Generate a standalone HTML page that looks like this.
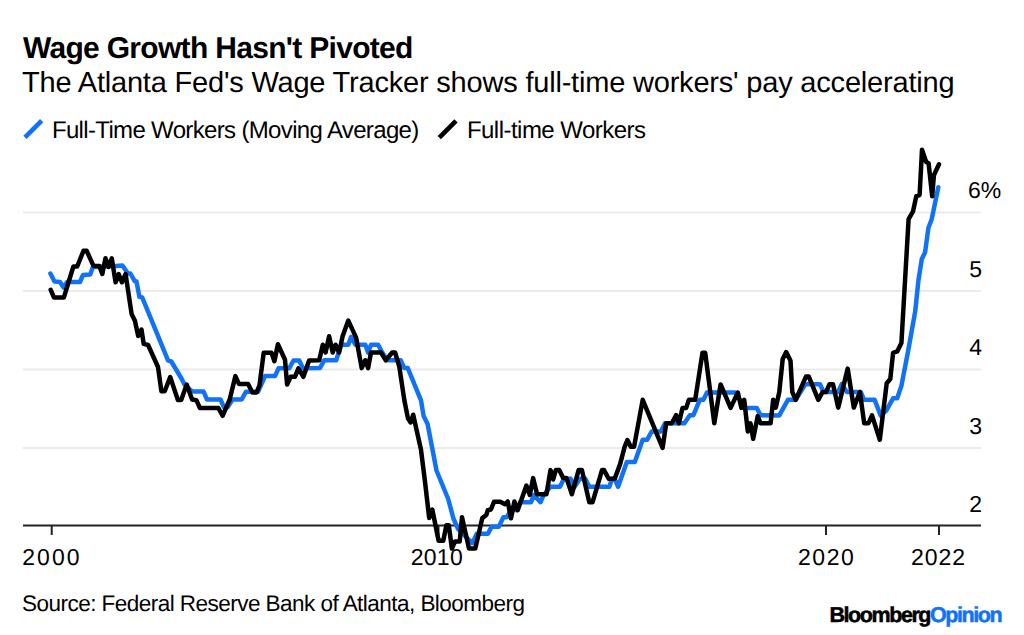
<!DOCTYPE html>
<html><head><meta charset="utf-8">
<style>
html,body{margin:0;padding:0;background:#fff;}
body{width:1024px;height:635px;overflow:hidden;position:relative;}
svg{position:absolute;left:0;top:0;}
text{font-family:"Liberation Sans", sans-serif;fill:#000;text-rendering:geometricPrecision;}
</style></head><body>
<svg width="1024" height="635" viewBox="0 0 1024 635">
<text id="title" x="22.9" y="57.8" font-size="30" font-weight="bold" style="letter-spacing:-0.688px">Wage Growth Hasn't Pivoted</text>
<text id="sub" x="22.1" y="91.6" font-size="29" style="letter-spacing:-0.197px">The Atlanta Fed's Wage Tracker shows full-time workers' pay accelerating</text>
<line x1="25" y1="137.4" x2="41.7" y2="120.7" stroke="#1172f8" stroke-width="4.7"/>
<text id="leg1" x="51.9" y="137.6" font-size="24" style="letter-spacing:-0.655px">Full-Time Workers (Moving Average)</text>
<line x1="439.3" y1="137.6" x2="456" y2="120.9" stroke="#000" stroke-width="4.7"/>
<text id="leg2" x="466.9" y="137.6" font-size="24" style="letter-spacing:-0.525px">Full-time Workers</text>
<g stroke="#ebebeb" stroke-width="2">
<line x1="23" y1="212.6" x2="981" y2="212.6"/>
<line x1="23" y1="291" x2="981" y2="291"/>
<line x1="23" y1="369.5" x2="981" y2="369.5"/>
<line x1="23" y1="448" x2="981" y2="448"/>
</g>
<g font-size="23">
<text x="968" y="197.6">6%</text>
<text x="969.3" y="276.6">5</text>
<text x="969.3" y="355.1">4</text>
<text x="969.3" y="433.6">3</text>
<text x="969.3" y="512.1">2</text>
</g>
<line x1="23" y1="525.6" x2="981" y2="525.6" stroke="#222" stroke-width="2"/>
<g stroke="#222" stroke-width="2">
<line x1="51.7" y1="525" x2="51.7" y2="535"/>
<line x1="438.5" y1="525" x2="438.5" y2="535"/>
<line x1="826" y1="525" x2="826" y2="535"/>
<line x1="939" y1="525" x2="939" y2="535"/>
</g>
<g font-size="23">
<text id="x2000" x="22.300" y="564.9" style="letter-spacing:2.000px">2000</text>
<text id="x2010" x="410.700" y="564.9" style="letter-spacing:0.300px">2010</text>
<text id="x2020" x="797.900" y="564.9" style="letter-spacing:1.600px">2020</text>
<text id="x2022" x="911.100" y="564.9" style="letter-spacing:0.967px">2022</text>
</g>
<polyline fill="none" stroke="#1172f8" stroke-width="4.5" stroke-linejoin="round" stroke-linecap="round" points="50.4,273.5 54.5,281.5 60.0,282.0 63.5,287.5 67.1,282.0 80.0,282.0 83.0,275.0 90.2,274.5 92.9,267.0 115.6,266.0 122.4,265.5 128.0,273.5 130.4,273.5 134.7,281.2 136.5,281.5 139.4,296.8 142.2,297.4 168.0,360.4 171.3,361.5 181.2,378.0 184.5,384.6 192.2,391.5 203.5,391.5 207.0,399.5 220.5,399.5 224.0,407.3 227.6,407.3 232.5,399.5 241.7,399.5 246.0,391.7 258.0,391.7 265.1,376.1 275.0,376.1 278.6,368.3 289.2,368.3 293.5,360.5 299.2,360.5 303.0,368.3 319.9,368.1 324.2,360.3 336.2,360.3 341.2,344.7 348.3,344.7 351.1,336.9 355.4,344.7 365.3,344.7 368.1,352.5 371.0,344.7 378.0,344.7 382.3,352.5 387.3,360.3 400.7,360.3 404.3,368.1 407.8,368.1 421.0,400.4 423.6,416.0 427.5,423.7 436.5,470.5 448.2,499.0 453.4,518.5 458.1,529.0 462.8,533.8 472.2,543.1 476.9,533.8 487.8,533.8 491.7,526.7 498.8,526.7 503.4,517.3 506.6,517.3 511.3,510.0 517.0,510.0 520.0,502.2 531.1,502.2 533.8,494.9 540.5,502.2 543.8,494.9 550.5,486.8 559.9,486.8 563.9,478.8 570.6,478.8 574.6,486.8 579.9,478.8 585.3,478.8 589.3,486.8 609.4,486.8 612.0,478.8 614.7,478.8 618.1,486.8 626.8,462.1 634.8,462.1 642.7,439.7 647.2,439.7 651.7,431.5 660.8,431.5 665.0,423.3 684.4,423.3 689.8,415.2 693.4,415.2 699.8,399.8 703.4,399.8 707.0,392.5 735.1,392.5 740.0,400.0 744.2,407.9 756.8,407.9 760.5,415.2 779.3,415.4 787.9,399.8 795.7,399.8 805.3,384.2 820.0,384.2 823.5,392.0 838.2,392.0 841.7,384.2 846.9,392.0 860.7,392.0 864.2,399.8 874.6,399.8 880.6,415.4 886.2,410.7 893.1,398.3 897.2,398.3 901.4,385.9 908.3,350.0 915.2,311.4 918.5,279.8 921.8,258.9 925.1,252.3 928.4,228.0 931.7,219.2 938.3,187.3"/>
<polyline fill="none" stroke="#000" stroke-width="4.5" stroke-linejoin="round" stroke-linecap="round" points="50.7,289.8 53.9,297.4 63.9,297.4 73.4,266.5 77.2,266.5 83.5,250.8 86.6,250.8 93.5,265.9 99.2,265.9 102.3,274.0 105.5,258.3 108.6,267.0 111.8,258.3 115.6,282.3 118.7,274.0 121.9,282.3 125.6,274.0 131.6,314.0 134.9,320.7 138.2,336.0 141.5,329.5 143.7,343.9 148.1,345.0 158.0,367.0 161.4,391.3 164.7,391.3 170.2,377.0 177.9,400.0 181.2,400.0 186.7,384.6 192.1,399.5 196.4,400.2 199.9,408.0 218.4,408.0 222.6,415.8 229.7,399.5 235.4,376.1 238.9,383.9 248.1,383.9 252.4,392.4 256.6,392.4 259.5,385.3 263.7,352.7 271.5,352.7 274.4,361.2 277.9,344.2 285.0,359.8 287.1,384.6 290.7,376.8 294.9,376.8 298.4,368.3 303.4,376.8 309.1,360.5 319.2,360.3 322.8,344.7 325.6,352.5 329.1,336.2 332.7,352.5 335.5,344.7 339.1,352.5 342.6,336.2 348.3,320.6 356.1,337.6 361.7,368.1 365.3,360.3 368.1,368.1 371.0,352.5 380.9,352.5 385.8,360.3 392.2,352.5 395.1,352.5 399.3,366.7 404.3,400.0 408.0,418.6 410.6,422.5 413.2,414.7 421.0,449.7 424.9,480.9 429.2,518.1 432.3,509.5 438.6,540.8 443.3,540.8 446.4,525.2 448.8,525.2 451.9,548.6 455.0,541.6 459.7,541.6 462.0,517.3 469.0,548.6 475.3,548.6 482.3,518.1 486.3,515.0 487.8,510.3 490.9,509.5 494.1,501.7 500.3,501.7 505.0,504.2 507.7,501.5 511.0,518.3 514.4,501.5 517.7,510.2 526.4,485.5 529.8,494.9 533.1,478.1 537.1,494.2 546.5,494.2 550.5,470.1 553.2,479.5 555.8,470.1 559.2,470.1 563.2,478.1 566.5,478.1 571.9,494.2 578.6,470.1 581.9,470.1 589.3,502.2 592.6,502.2 602.0,470.1 604.0,470.1 608.7,478.8 614.7,478.8 620.1,464.1 624.7,446.7 627.4,440.0 630.8,446.7 634.1,446.7 642.7,399.8 662.6,447.8 666.2,423.3 671.7,423.3 676.2,415.2 678.9,423.3 682.5,407.9 686.2,407.9 688.9,399.8 695.2,399.8 702.5,352.7 705.2,352.7 714.3,423.3 720.6,384.4 730.6,407.9 737.8,392.5 741.4,407.9 744.2,399.8 747.8,431.5 750.5,423.3 753.2,438.8 757.7,416.1 760.5,423.3 770.6,423.2 773.2,399.8 775.8,407.6 779.3,392.0 782.7,359.1 786.2,352.1 790.5,360.8 792.3,392.0 795.7,399.8 806.1,376.4 808.7,376.4 818.3,399.8 822.6,392.0 826.1,392.0 829.5,384.2 833.0,384.2 838.2,407.6 847.7,368.6 853.8,407.6 859.9,392.0 864.2,423.2 868.5,423.2 872.0,415.4 879.8,439.7 886.7,383.3 890.3,379.0 893.1,352.8 897.2,351.4 901.4,343.1 908.6,219.2 913.0,211.5 916.3,196.1 919.6,195.0 922.0,149.8 926.2,162.0 928.6,163.2 932.2,196.3 933.9,175.2 939.0,164.3"/>
<text id="src" x="22.1" y="610.7" font-size="22.5" style="letter-spacing:-0.535px">Source: Federal Reserve Bank of Atlanta, Bloomberg</text>
<text id="logo" x="829.5" y="622" stroke="#000" stroke-width="0.5" font-size="21.5" font-weight="bold" style="letter-spacing:-1.440px">Bloomberg<tspan fill="#1172f8" stroke="#1172f8">Opinion</tspan></text>
</svg>
</body></html>
